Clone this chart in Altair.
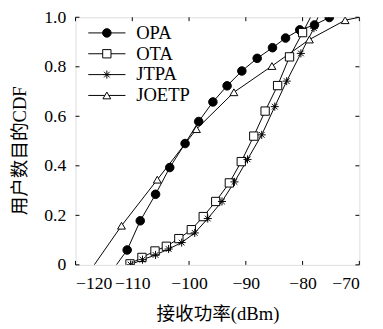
import altair as alt
import pandas as pd

names = ["OPA", "OTA", "JTPA", "JOETP"]

opa_x = [-110.9, -108.6, -105.9, -103.4, -100.7, -98.3, -95.8, -93.3, -90.7, -88.0, -85.3, -83.0, -80.5, -77.9, -75.3]
opa_y = [0.060, 0.178, 0.285, 0.393, 0.490, 0.579, 0.658, 0.723, 0.783, 0.834, 0.877, 0.916, 0.949, 0.969, 0.999]
opa_ends = [(-112.8, 0.0)]

ota_x = [-110.4, -108.3, -106.0, -104.0, -101.8, -99.6, -97.5, -95.3, -92.9, -90.8, -88.6, -86.6, -84.4, -82.3, -80.0]
ota_y = [0.004, 0.030, 0.056, 0.075, 0.106, 0.142, 0.195, 0.256, 0.331, 0.417, 0.520, 0.621, 0.724, 0.840, 0.938]
ota_ends = [(-78.6, 1.0)]

jtpa_x = [-110.3, -108.2, -105.9, -103.6, -101.3, -99.0, -96.7, -94.2, -92.0, -89.7, -87.2, -84.9, -82.8, -80.3, -78.0]
jtpa_y = [0.001, 0.021, 0.040, 0.064, 0.090, 0.129, 0.187, 0.256, 0.335, 0.426, 0.525, 0.639, 0.742, 0.854, 0.956]
jtpa_ends = [(-77.3, 1.0)]

joetp_x = [-111.9, -105.6, -98.7, -92.1, -85.4, -78.8, -72.5]
joetp_y = [0.158, 0.344, 0.548, 0.697, 0.803, 0.910, 0.988]
joetp_ends = [(-116.7, 0.0), (-70.0, 1.0)]

x_ticks = [-120, -110, -100, -90, -80, -70]
y_ticks = [0, 0.2, 0.4, 0.6, 0.8, 1.0]

series = [
    ("OPA", opa_x, opa_y, opa_ends),
    ("OTA", ota_x, ota_y, ota_ends),
    ("JTPA", jtpa_x, jtpa_y, jtpa_ends),
    ("JOETP", joetp_x, joetp_y, joetp_ends),
]

pt_rows, line_rows = [], []
for name, xs, ys, ends in series:
    for x, y in zip(xs, ys):
        pt_rows.append({"series": name, "x": x, "y": y})
        line_rows.append({"series": name, "x": x, "y": y})
    for x, y in ends:
        line_rows.append({"series": name, "x": x, "y": y})
pts = pd.DataFrame(pt_rows)
lines = pd.DataFrame(line_rows)

serif = "'Liberation Serif', 'DejaVu Serif', 'Noto Sans CJK SC', serif"
star = "M0,-1L0,1M-1,0L1,0M-0.7,-0.7L0.7,0.7M-0.7,0.7L0.7,-0.7"

W, H = 290, 253

xscale = alt.Scale(domain=[-120, -70], nice=False, zero=False)
yscale = alt.Scale(domain=[0, 1], nice=False)
shape_scale = alt.Scale(domain=names, range=["circle", "square", star, "triangle-up"])
fill_scale = alt.Scale(domain=names, range=["black", "white", "black", "white"])
size_scale = alt.Scale(domain=names, range=[76, 64, 130, 90])

x_enc = alt.X("x:Q", scale=xscale, axis=alt.Axis(
    values=x_ticks, ticks=False, domain=False, grid=False, labelFont=serif,
    labelFontSize=18, labelColor="black", labelPadding=10, format="d",
    title="接收功率(dBm)", titleFont=serif, titleFontSize=19, titleFontWeight="normal",
    titleColor="black", titleY=50, titleBaseline="middle"))
y_enc = alt.Y("y:Q", scale=yscale, axis=alt.Axis(
    values=y_ticks, ticks=False, domain=False, grid=False, labelFont=serif,
    labelFontSize=18, labelColor="black", labelPadding=10,
    labelExpr="datum.value == 0 ? '0' : format(datum.value, '.1f')",
    title="用户数目的CDF", titleFont=serif, titleFontSize=19, titleFontWeight="normal",
    titleColor="black", titleX=-57, titleY=136, titleBaseline="middle"))

line_layer = alt.Chart(lines).mark_line(color="black", strokeWidth=1, clip=True).encode(
    x=x_enc, y=y_enc, detail="series:N", order="x:Q")

point_layer = alt.Chart(pts).mark_point(stroke="black", strokeWidth=1, opacity=1, fillOpacity=1, clip=True).encode(
    x=alt.X("x:Q", scale=xscale),
    y=alt.Y("y:Q", scale=yscale),
    shape=alt.Shape("series:N", scale=shape_scale, legend=None),
    fill=alt.Fill("series:N", scale=fill_scale, legend=None),
    size=alt.Size("series:N", scale=size_scale, legend=None),
)

xt = pd.DataFrame({"x": x_ticks})
yt = pd.DataFrame({"y": y_ticks})
tick_b = alt.Chart(xt).mark_rule(color="black", strokeWidth=1).encode(
    x=alt.X("x:Q", scale=xscale), y=alt.value(H), y2=alt.value(H - 4))
tick_t = alt.Chart(xt).mark_rule(color="black", strokeWidth=1).encode(
    x=alt.X("x:Q", scale=xscale), y=alt.value(0), y2=alt.value(4))
tick_l = alt.Chart(yt).mark_rule(color="black", strokeWidth=1).encode(
    y=alt.Y("y:Q", scale=yscale), x=alt.value(0), x2=alt.value(4))
tick_r = alt.Chart(yt).mark_rule(color="black", strokeWidth=1).encode(
    y=alt.Y("y:Q", scale=yscale), x=alt.value(W), x2=alt.value(W - 4))

leg = pd.DataFrame({"series": names, "ly": [16 + 21.3 * i for i in range(len(names))]})
leg_rule = alt.Chart(leg).mark_rule(color="black", strokeWidth=1).encode(
    y=alt.Y("ly:Q", scale=None), x=alt.value(13), x2=alt.value(51))
leg_pt = alt.Chart(leg).mark_point(stroke="black", strokeWidth=1, opacity=1, fillOpacity=1).encode(
    y=alt.Y("ly:Q", scale=None), x=alt.value(32),
    shape=alt.Shape("series:N", scale=shape_scale, legend=None),
    fill=alt.Fill("series:N", scale=fill_scale, legend=None),
    size=alt.Size("series:N", scale=size_scale, legend=None),
)
leg_txt = alt.Chart(leg).mark_text(align="left", baseline="middle", font=serif, fontSize=19, color="black").encode(
    y=alt.Y("ly:Q", scale=None), x=alt.value(62), text="series:N")

chart = alt.layer(
    line_layer, point_layer, tick_b, tick_t, tick_l, tick_r, leg_rule, leg_pt, leg_txt
).properties(
    width=W, height=H,
    autosize=alt.AutoSizeParams(type="none"),
    padding={"left": 69, "top": 6, "right": 16, "bottom": 58},
).configure_view(stroke="black", strokeWidth=1.2).configure(background="white")

chart.save("out.html", embed_options={"renderer": "svg", "actions": False})
